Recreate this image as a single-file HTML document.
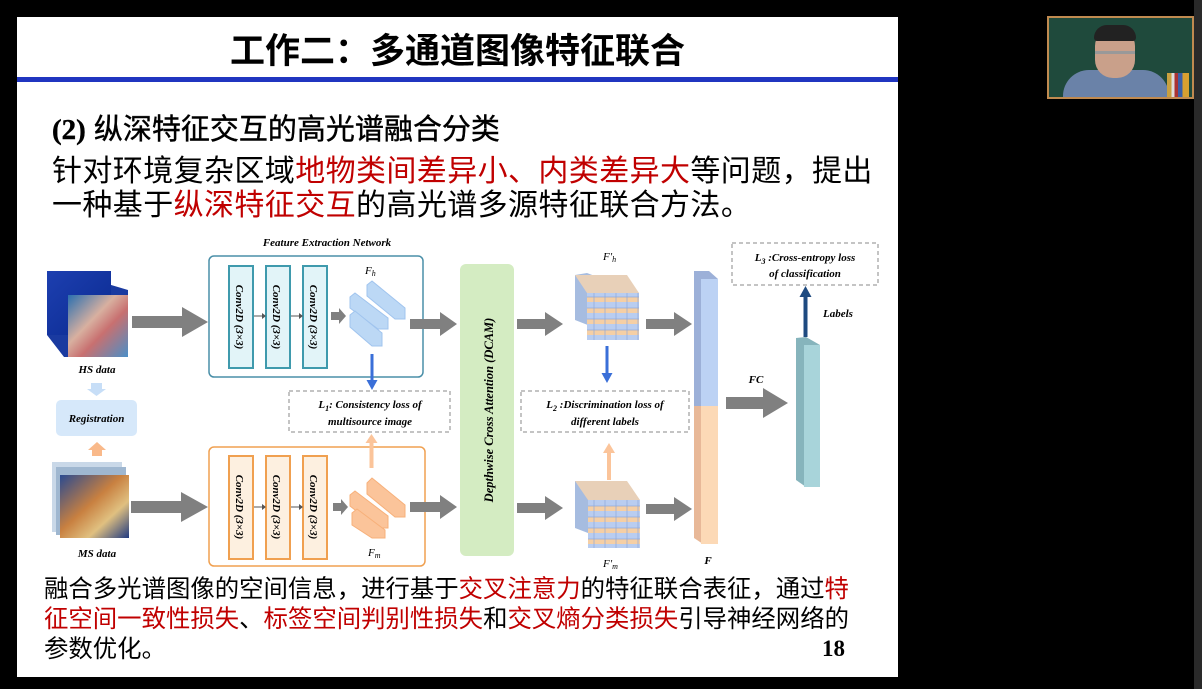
<!DOCTYPE html>
<html><head><meta charset="utf-8"><style>
body{margin:0;width:1202px;height:689px;background:#000;position:relative;overflow:hidden;font-family:"Liberation Sans","Noto Sans CJK SC",sans-serif}
.a{position:absolute;white-space:nowrap}
.r{color:#c00000}
</style></head><body>
<div class="a" style="left:17px;top:17px;width:881px;height:660px;background:#fff"></div>
<div class="a" style="left:1194px;top:0;width:8px;height:689px;background:#2a2a2a"></div>
<div class="a" style="left:1047px;top:16px;width:147px;height:83px;background:#1f4a3c;border:2px solid #c08a50;box-sizing:border-box;overflow:hidden">
 <div class="a" style="left:14px;top:52px;width:106px;height:40px;border-radius:26px 26px 0 0;background:#6a82a8"></div>
 <div class="a" style="left:46px;top:10px;width:40px;height:50px;border-radius:18px;background:#c9a08a"></div>
 <div class="a" style="left:45px;top:7px;width:42px;height:16px;border-radius:16px 16px 4px 4px;background:#222"></div>
 <div class="a" style="left:46px;top:33px;width:40px;height:3px;background:#999"></div>
 <div class="a" style="left:118px;top:55px;width:22px;height:25px;background:linear-gradient(90deg,#c9a040 0 20%,#ddd 20% 35%,#a33 35% 50%,#3b5fa8 50% 70%,#d9a030 70%)"></div>
</div>
<div class="a" style="left:17px;top:23px;width:881px;text-align:center;font-size:35px;font-weight:bold;color:#000">工作二：多通道图像特征联合</div>
<div class="a" style="left:17px;top:77px;width:881px;height:5px;background:#2035c0"></div>
<div class="a" style="left:52px;top:106px;font-size:29px;color:#000;-webkit-text-stroke:.4px #000"><b style="font-family:'Liberation Serif',serif">(2)</b> 纵深特征交互的高光谱融合分类</div>
<div class="a" style="left:52px;top:146px;font-size:30px;letter-spacing:0.4px;color:#000">针对环境复杂区域<span class="r">地物类间差异小、内类差异大</span>等问题，提出</div>
<div class="a" style="left:52px;top:180px;font-size:30px;letter-spacing:0.4px;color:#000">一种基于<span class="r">纵深特征交互</span>的高光谱多源特征联合方法。</div>
<div class="a" style="left:44px;top:575px;font-size:24.4px;line-height:30px;color:#000">融合多光谱图像的空间信息，进行基于<span class="r">交叉注意力</span>的特征联合表征，通过<span class="r">特</span><br><span class="r">征空间一致性损失</span>、<span class="r">标签空间判别性损失</span>和<span class="r">交叉熵分类损失</span>引导神经网络的<br>参数优化。</div>
<div class="a" style="left:822px;top:636px;font-size:23px;font-weight:bold;font-family:'Liberation Serif',serif">18</div>

<svg class="a" style="left:0;top:0" width="1202" height="689" font-family="Liberation Serif,serif" font-style="italic" font-weight="bold">
<defs>
<linearGradient id="hs" x1="0" y1="0" x2="1" y2="1"><stop offset="0" stop-color="#1d3fb0"/><stop offset="1" stop-color="#0a2a90"/></linearGradient>
<linearGradient id="map" x1="0" y1="0" x2="1" y2="1"><stop offset="0" stop-color="#2a6fb0"/><stop offset=".4" stop-color="#d8b0a0"/><stop offset=".6" stop-color="#c87070"/><stop offset="1" stop-color="#4a8fc8"/></linearGradient>
<linearGradient id="ms" x1="0" y1="0" x2="1" y2="1"><stop offset="0" stop-color="#2a4a90"/><stop offset=".45" stop-color="#c88040"/><stop offset=".7" stop-color="#e0c080"/><stop offset="1" stop-color="#203a80"/></linearGradient>
<pattern id="grid" width="11" height="11" patternUnits="userSpaceOnUse"><rect width="11" height="11" fill="#b9cdf0"/><rect width="11" height="5" fill="#f5cfa5"/><rect width="11" height="11" fill="none" stroke="#8ea8d8" stroke-width=".7"/></pattern>
</defs>
<g font-size="11" fill="#000">
<text x="327" y="246" text-anchor="middle">Feature Extraction Network</text>
<polygon points="47,271 64,271 128,290 128,357 64,357 47,335" fill="#1a3aa0"/>
<rect x="47" y="271" width="64" height="64" fill="url(#hs)"/>
<rect x="68" y="295" width="60" height="62" fill="url(#map)"/>
<text x="97" y="373" text-anchor="middle">HS data</text>
<path d="M91,383h11v6h4l-9.5,7l-9.5,-7h4z" fill="#c7def7"/>
<rect x="56" y="400" width="81" height="36" rx="5" fill="#d6e8fa"/>
<text x="96.5" y="422" text-anchor="middle">Registration</text>
<path d="M92,456v-6h-4l9,-8l9,8h-4v6z" fill="#f9b98a"/>
<rect x="52" y="462" width="70" height="70" fill="#c9d8e8"/>
<rect x="56" y="467" width="70" height="68" fill="#9fb7d0"/>
<rect x="60" y="475" width="69" height="63" fill="url(#ms)"/>
<text x="97" y="557" text-anchor="middle">MS data</text>
<path d="M132,316h50v-9l26,15l-26,15v-9h-50z" fill="#808080"/>
<path d="M131,501h50v-9l27,15l-27,15v-9h-50z" fill="#808080"/>
<rect x="209" y="256" width="214" height="121" rx="5" fill="none" stroke="#4a8fa8" stroke-width="1.5"/>
<rect x="209" y="447" width="216" height="119" rx="5" fill="none" stroke="#f0a050" stroke-width="1.5"/>
<g stroke-width="2">
<rect x="229" y="266" width="24" height="102" fill="#e2f4f8" stroke="#3f9aad"/>
<rect x="266" y="266" width="24" height="102" fill="#e2f4f8" stroke="#3f9aad"/>
<rect x="303" y="266" width="24" height="102" fill="#e2f4f8" stroke="#3f9aad"/>
<rect x="229" y="456" width="24" height="103" fill="#fdf0e0" stroke="#f0a050"/>
<rect x="266" y="456" width="24" height="103" fill="#fdf0e0" stroke="#f0a050"/>
<rect x="303" y="456" width="24" height="103" fill="#fdf0e0" stroke="#f0a050"/>
</g>
<g font-size="11" font-family="Liberation Serif,serif">
<text transform="translate(236,317) rotate(90)" text-anchor="middle">Conv2D (3×3)</text>
<text transform="translate(273,317) rotate(90)" text-anchor="middle">Conv2D (3×3)</text>
<text transform="translate(310,317) rotate(90)" text-anchor="middle">Conv2D (3×3)</text>
<text transform="translate(236,507) rotate(90)" text-anchor="middle">Conv2D (3×3)</text>
<text transform="translate(273,507) rotate(90)" text-anchor="middle">Conv2D (3×3)</text>
<text transform="translate(310,507) rotate(90)" text-anchor="middle">Conv2D (3×3)</text>
</g>
<g stroke="#555" stroke-width="1"><path d="M254,316h9M291,316h9M254,507h9M291,507h9"/></g>
<path d="M262,313l4,3l-4,3zM299,313l4,3l-4,3zM262,504l4,3l-4,3zM299,504l4,3l-4,3z" fill="#555"/>
<path d="M331,312h8v-4l7,8l-7,8v-4h-8z" fill="#808080"/>
<path d="M333,503h8v-4l7,8l-7,8v-4h-8z" fill="#808080"/>
<g fill="#bcd8f5" stroke="#a0c4ee" stroke-width="1">
<polygon points="367,285 372,281 405,308 405,319 395,319 367,296"/>
<polygon points="350,297 355,293 388,318 388,329 378,329 350,308"/>
<polygon points="350,315 355,311 382,333 382,346 372,346 350,327"/>
</g>
<g fill="#fbc49a" stroke="#f7b07a" stroke-width="1">
<polygon points="367,483 372,478 405,505 405,517 395,517 367,494"/>
<polygon points="350,495 355,491 388,516 388,528 378,528 350,506"/>
<polygon points="352,513 357,509 385,530 385,538 372,538 352,525"/>
</g>
<text x="365" y="274" font-size="11" font-weight="normal">F<tspan font-size="8" dy="2">h</tspan></text>
<text x="368" y="556" font-size="11" font-weight="normal">F<tspan font-size="8" dy="2">m</tspan></text>
<path d="M410,319h30v-7l17,12l-17,12v-7h-30z" fill="#808080"/>
<path d="M410,502h30v-7l17,12l-17,12v-7h-30z" fill="#808080"/>
<path d="M370.5,354h3v26h4l-5.5,10l-5.5,-10h4z" fill="#3a6fd8"/>
<path d="M369.5,468v-25h-4l6,-9l6,9h-4v25z" fill="#fbc49a"/>
<rect x="289" y="391" width="161" height="41" fill="none" stroke="#888" stroke-dasharray="4,3"/>
<text x="370" y="408" text-anchor="middle">L<tspan font-size="8" dy="3">1</tspan><tspan dy="-3">: Consistency loss of</tspan></text>
<text x="370" y="425" text-anchor="middle">multisource image</text>
<rect x="460" y="264" width="54" height="292" rx="6" fill="#d4ecc2"/>
<text transform="translate(493,410) rotate(-90)" text-anchor="middle" font-size="12.5">Depthwise Cross  Attention (DCAM)</text>
<path d="M517,319h28v-7l18,12l-18,12v-7h-28z" fill="#808080"/>
<path d="M517,503h28v-7l18,12l-18,12v-7h-28z" fill="#808080"/>
<polygon points="575,275 587,273 639,293 639,340 626,340 575,320" fill="#a6bce0"/>
<rect x="587" y="293" width="52" height="47" fill="url(#grid)"/>
<polygon points="575,275 627,275 639,293 587,293" fill="#e8d0b8"/>
<polygon points="575,481 587,481 640,500 640,548 627,548 575,528" fill="#a6bce0"/>
<rect x="588" y="500" width="52" height="48" fill="url(#grid)"/>
<polygon points="575,481 627,481 640,500 588,500" fill="#e8d0b8"/>
<text x="603" y="260" font-size="11" font-weight="normal">F′<tspan font-size="8" dy="2">h</tspan></text>
<text x="603" y="567" font-size="11" font-weight="normal">F′<tspan font-size="8" dy="2">m</tspan></text>
<path d="M605.5,346h3v27h4l-5.5,10l-5.5,-10h4z" fill="#3a6fd8"/>
<path d="M607,480v-27h-4l6,-10l6,10h-4v27z" fill="#fbc49a"/>
<rect x="521" y="391" width="168" height="41" fill="none" stroke="#888" stroke-dasharray="4,3"/>
<text x="605" y="408" text-anchor="middle">L<tspan font-size="8" dy="3">2</tspan><tspan dy="-3"> :Discrimination loss of</tspan></text>
<text x="605" y="425" text-anchor="middle">different labels</text>
<path d="M646,319h28v-7l18,12l-18,12v-7h-28z" fill="#808080"/>
<path d="M646,504h28v-7l18,12l-18,12v-7h-28z" fill="#808080"/>
<polygon points="694,271 709,271 718,279 718,406 694,406" fill="#9cb0d8"/>
<rect x="701" y="279" width="17" height="127" fill="#bcd2f4"/>
<polygon points="694,406 718,406 718,544 703,544 694,538" fill="#e8b898"/>
<rect x="701" y="406" width="17" height="138" fill="#fcd9b6"/>
<text x="708" y="564" text-anchor="middle">F</text>
<path d="M726,397h37v-9l25,15l-25,15v-9h-37z" fill="#808080"/>
<text x="756" y="383" text-anchor="middle">FC</text>
<polygon points="796,338 806,337 820,345 820,487 806,487 796,480" fill="#86b4bc"/>
<rect x="804" y="345" width="16" height="142" fill="#a8d4da"/>
<path d="M803.5,337v-40h-4l6,-11l6,11h-4v40z" fill="#1e4a80"/>
<text x="838" y="317" text-anchor="middle">Labels</text>
<rect x="732" y="243" width="146" height="42" fill="none" stroke="#888" stroke-dasharray="4,3"/>
<text x="805" y="261" text-anchor="middle">L<tspan font-size="8" dy="3">3</tspan><tspan dy="-3"> :Cross-entropy loss</tspan></text>
<text x="805" y="277" text-anchor="middle">of classification</text>
</g>
</svg>
</body></html>
